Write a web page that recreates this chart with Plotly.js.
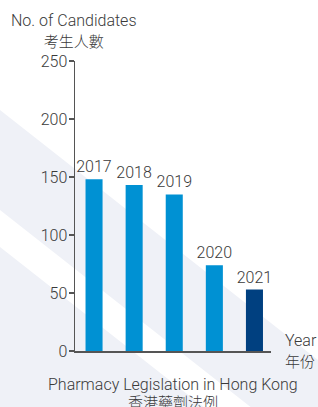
<!DOCTYPE html>
<html>
<head>
<meta charset="utf-8">
<script src="https://cdn.plot.ly/plotly-3.0.1.min.js"></script>
<style>html,body{margin:0;padding:0;background:#fff;}#chart{width:318px;height:407px;}</style>
</head>
<body>
<div id="chart"></div>
<script>
// Data
var years = ["2017", "2018", "2019", "2020", "2021"];
var candidates = [148, 143, 135, 74, 53];
var barColors = ["#0091d3", "#0091d3", "#0091d3", "#0091d3", "#004080"];
var yTicks = [0, 50, 100, 150, 200, 250];
var yTitleEn = "No. of Candidates", yTitleZh = "考生人數";
var xTitleEn = "Year", xTitleZh = "年份";
var titleEn = "Pharmacy Legislation in Hong Kong", titleZh = "香港藥劑法例";

var W = 318, H = 407;
var M = {l: 75, r: 47, t: 61, b: 56};
var PW = W - M.l - M.r, PH = H - M.t - M.b;
function px(x) { return (x - M.l) / PW; }
function py(y) { return (H - M.b - y) / PH; }
function path(pts) {
  return pts.map(function (p, i) { return (i ? "L" : "M") + px(p[0]).toFixed(4) + "," + py(p[1]).toFixed(4); }).join(" ") + " Z";
}
function zh(s) {
  return "<span style=\"font-family:'Noto Sans CJK TC';font-weight:300;font-size:15px\">" + s + "</span>";
}

var FONT = "Roboto, 'Open Sans', Arial, sans-serif";
var TXT = "#3a3a3a";

var trace = {
  type: "bar",
  x: years,
  y: candidates,
  text: years,
  textposition: "outside",
  constraintext: "none",
  cliponaxis: false,
  textfont: {family: FONT, size: 16, color: TXT, weight: 300},
  marker: {color: barColors},
  hoverinfo: "none"
};

var layout = {
  width: W, height: H,
  margin: M,
  paper_bgcolor: "#ffffff",
  plot_bgcolor: "rgba(0,0,0,0)",
  showlegend: false,
  bargap: 0.575,
  font: {family: FONT, size: 16, color: TXT, weight: 300},
  xaxis: {
    type: "category",
    range: [-0.475, 4.4125],
    showticklabels: false,
    ticks: "",
    showgrid: false,
    zeroline: false,
    showline: true,
    linecolor: "#555555",
    linewidth: 1.5,
    fixedrange: true
  },
  yaxis: {
    range: [0, 250],
    tickvals: yTicks,
    ticktext: yTicks.map(String),
    ticks: "outside",
    ticklen: 5,
    tickwidth: 1.2,
    tickcolor: "#555555",
    ticklabelstandoff: -2,
    showgrid: false,
    zeroline: false,
    showline: true,
    linecolor: "#555555",
    linewidth: 1.5,
    tickfont: {family: FONT, size: 16, color: TXT, weight: 300},
    fixedrange: true
  },
  shapes: [
    {type: "path", xref: "paper", yref: "paper", layer: "below", line: {width: 0}, fillcolor: "#eff1f7",
     path: path([[0, 110], [318, 360], [318, 407], [0, 407]])},
    {type: "path", xref: "paper", yref: "paper", layer: "below", line: {width: 0}, fillcolor: "#ffffff",
     path: path([[0, 210], [250.6, 407], [203.6, 407], [0, 247]])}
  ],
  annotations: [
    {text: yTitleEn + "<br>" + zh(yTitleZh), xref: "paper", yref: "paper", x: 0, y: 1, xanchor: "center", yanchor: "bottom",
     xshift: -1.5, yshift: 8, showarrow: false, align: "center",
     font: {family: FONT, size: 16, color: TXT, weight: 300}},
    {text: xTitleEn + "<br>" + zh(xTitleZh), xref: "paper", yref: "paper", x: 1, y: 0, xanchor: "left", yanchor: "middle",
     xshift: 12, yshift: 0, showarrow: false, align: "left",
     font: {family: FONT, size: 16, color: TXT, weight: 300}},
    {text: titleEn, xref: "paper", yref: "paper", x: 0.5, y: 0, xanchor: "center", yanchor: "top",
     xshift: 0, yshift: -22, showarrow: false, align: "center",
     font: {family: FONT, size: 16, color: TXT, weight: 300}},
    {text: zh(titleZh), xref: "paper", yref: "paper", x: 0.5, y: 0, xanchor: "center", yanchor: "top",
     xshift: 0, yshift: -38, showarrow: false, align: "center",
     font: {family: FONT, size: 16, color: TXT, weight: 300}}
  ]
};

Plotly.newPlot("chart", [trace], layout, {staticPlot: true, displayModeBar: false});
</script>
</body>
</html>
